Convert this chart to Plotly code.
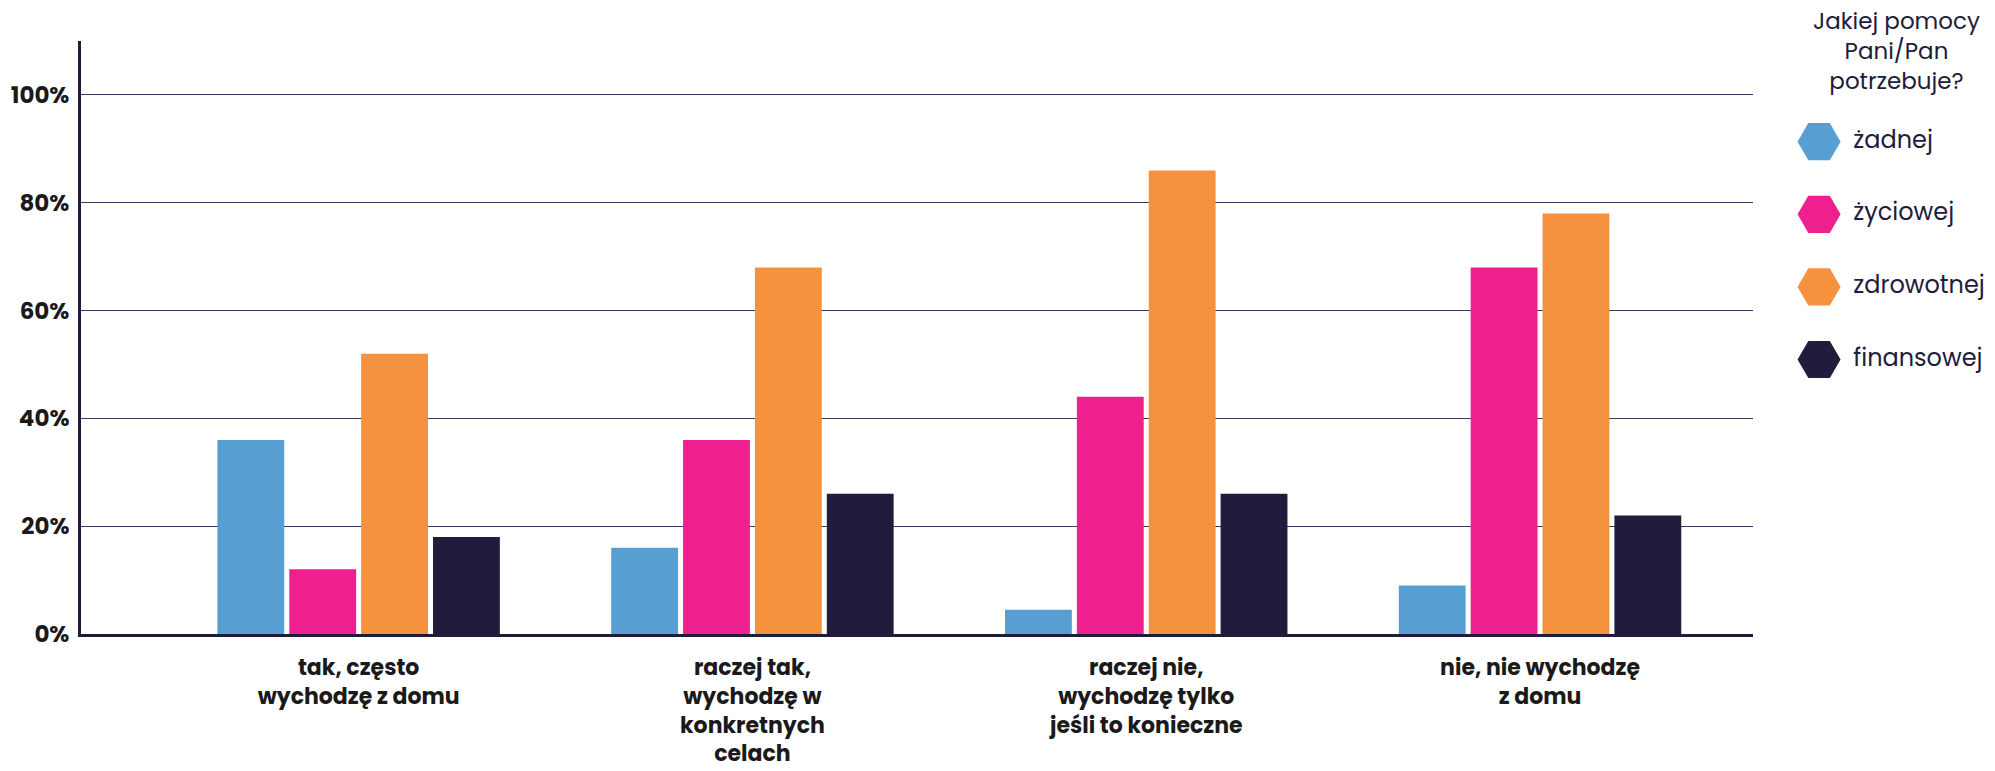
import plotly.graph_objects as go

# ---- data ----
categories = [
    "tak, często<br>wychodzę z domu",
    "raczej tak,<br>wychodzę w<br>konkretnych<br>celach",
    "raczej nie,<br>wychodzę tylko<br>jeśli to konieczne",
    "nie, nie wychodzę<br>z domu",
]
series_names = ["żadnej", "życiowej", "zdrowotnej", "finansowej"]
zadnej = [36, 16, 4.5, 9]
zyciowej = [12, 36, 44, 68]
zdrowotnej = [52, 68, 86, 78]
finansowej = [18, 26, 26, 22]
y_tick_values = [0, 20, 40, 60, 80, 100]
y_tick_labels = ["0%", "20%", "40%", "60%", "80%", "100%"]
legend_title = "Jakiej pomocy<br>Pani/Pan<br>potrzebuje?"

colors = ["#579fd3", "#ee1f8e", "#f59240", "#201c3c"]
navy = "#201c3c"
FONT = "Poppins, Inter, sans-serif"

fig = go.Figure()
for name, vals, col in zip(series_names, [zadnej, zyciowej, zdrowotnej, finansowej], colors):
    fig.add_trace(go.Bar(
        x=categories, y=vals, name=name, marker_color=col,
        marker_line_width=0, showlegend=False,
    ))

# custom legend with hexagon symbols
fig.add_trace(go.Scatter(
    x=[0] * len(series_names), y=list(range(len(series_names))),
    text=series_names, texttemplate="\u00a0%{text}",
    mode="markers+text", textposition="middle right",
    marker=dict(symbol="hexagon2", size=43, color=colors, line=dict(width=0)),
    textfont=dict(family=FONT, size=24, color=navy),
    xaxis="x2", yaxis="y2", showlegend=False, hoverinfo="skip",
))

fig.update_layout(
    width=1995, height=771,
    margin=dict(l=81, r=0, t=41, b=137, autoexpand=False),
    paper_bgcolor="white", plot_bgcolor="white",
    barmode="group", bargap=0.27, bargroupgap=0.07,
    font=dict(family=FONT, color="#1a1a1a"),
    xaxis=dict(
        domain=[0, 0.8736], range=[-0.705, 3.541], automargin=False,
        showline=True, linecolor=navy, linewidth=3,
        showgrid=False, ticks="", ticklabelstandoff=12,
        tickfont=dict(family=FONT, size=22, color="#1a1a1a", weight="bold"),
    ),
    yaxis=dict(
        range=[0, 110], tickvals=y_tick_values, ticktext=y_tick_labels,
        automargin=False,
        showline=True, linecolor=navy, linewidth=3,
        showgrid=True, gridcolor="#3b3858", gridwidth=1,
        zeroline=False, ticks="", ticklabelstandoff=4,
        tickfont=dict(family=FONT, size=23, color="#1a1a1a", weight="bold"),
    ),
    xaxis2=dict(domain=[0.88, 1.0], range=[-0.234, 0.766], visible=False,
                fixedrange=True, anchor="y2", automargin=False),
    yaxis2=dict(domain=[0, 1], range=[6.781, -1.387], visible=False,
                fixedrange=True, anchor="x2", automargin=False),
    annotations=[dict(
        text=legend_title, xref="paper", yref="paper", x=0.9483, y=1.0641,
        xanchor="center", yanchor="top", showarrow=False, align="center",
        font=dict(family=FONT, size=23, color=navy),
    )],
)

fig.write_html(
    "out.html",
    config={"displayModeBar": False},
    post_script="document.body.style.margin='0';document.body.style.overflow='hidden';",
)
